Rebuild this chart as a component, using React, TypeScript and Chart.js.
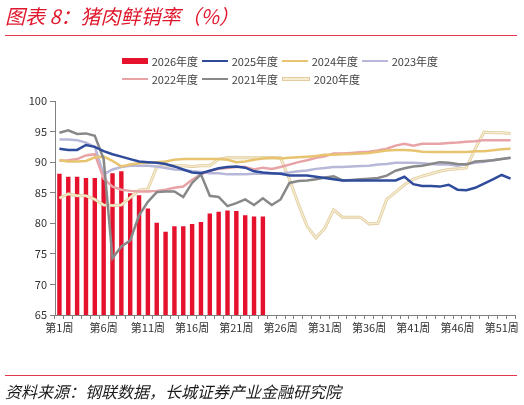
import { useRef, useEffect } from 'react'
import Chart from 'chart.js/auto'

const WEEKS = Array.from({ length: 52 }, (_, i) => `第${i + 1}周`)
const Y_MIN = 65
const Y_MAX = 100
const Y_STEP = 5

const Y2026 = [88.1, 87.6, 87.6, 87.4, 87.4, 87.6, 88.2, 88.5, 84.9, 84.6, 82.4, 80.1, 78.6, 79.5, 79.5, 79.9, 80.2, 81.6, 81.9, 82.1, 82.0, 81.3, 81.1, 81.1]
const Y2025 = [92.2, 92.0, 92.0, 92.8, 92.5, 91.8, 91.3, 90.9, 90.5, 90.1, 90.0, 89.9, 89.7, 89.3, 88.8, 88.3, 88.2, 88.6, 89.0, 89.2, 89.3, 89.1, 88.5, 88.3, 88.2, 88.1, 87.8, 87.8, 87.8, 87.6, 87.4, 87.2, 87.0, 87.0, 87.0, 87.0, 87.0, 87.0, 87.0, 87.6, 86.4, 86.1, 86.1, 86.0, 86.3, 85.5, 85.4, 85.8, 86.5, 87.2, 87.9, 87.3]
const Y2024 = [90.3, 90.1, 90.1, 90.2, 90.8, 90.9, 90.2, 89.3, 89.6, 89.8, 89.9, 90.0, 90.1, 90.4, 90.5, 90.5, 90.5, 90.5, 90.5, 90.4, 90.0, 90.1, 90.4, 90.6, 90.7, 90.6, 90.7, 90.8, 90.9, 91.0, 91.2, 91.2, 91.3, 91.35, 91.4, 91.5, 91.7, 91.9, 92.0, 92.0, 91.9, 91.7, 91.65, 91.65, 91.65, 91.65, 91.65, 91.8, 91.8, 91.95, 92.1, 92.2]
const Y2023 = [93.7, 93.7, 93.6, 93.2, 92.5, 88.0, 88.8, 89.2, 89.4, 89.4, 89.4, 89.3, 89.05, 88.8, 88.7, 88.5, 88.4, 88.2, 88.2, 88.0, 88.0, 88.0, 88.1, 88.1, 88.1, 88.2, 88.3, 88.5, 88.65, 88.9, 89.05, 89.2, 89.2, 89.3, 89.35, 89.4, 89.6, 89.7, 89.9, 89.9, 89.9, 89.8, 89.7, 89.6, 89.6, 89.4, 89.7, 89.9, 90.05, 90.3, 90.5, 90.7]
const Y2022 = [90.25, 90.3, 90.5, 91.1, 91.3, 87.3, 86.0, 85.5, 85.3, 85.2, 85.2, 85.3, 85.5, 85.8, 86.0, 87.1, 88.0, 88.6, 88.9, 89.05, 89.2, 89.2, 88.8, 89.1, 88.9, 89.2, 89.6, 90.0, 90.3, 90.7, 90.95, 91.4, 91.4, 91.5, 91.6, 91.7, 91.9, 92.2, 92.7, 93.0, 92.7, 93.0, 93.0, 93.0, 93.15, 93.2, 93.35, 93.4, 93.6, 93.6, 93.6, 93.6]
const Y2021 = [94.8, 95.2, 94.6, 94.7, 94.3, 90.5, 74.3, 76.2, 77.2, 81.3, 83.5, 85.1, 85.2, 85.2, 84.3, 86.6, 88.0, 84.5, 84.3, 82.8, 83.3, 83.9, 83.0, 84.1, 83.0, 83.9, 86.6, 86.9, 87.0, 87.2, 87.5, 87.7, 87.0, 87.1, 87.2, 87.3, 87.4, 87.8, 88.6, 89.0, 89.3, 89.4, 89.7, 90.0, 89.9, 89.7, 89.6, 90.1, 90.2, 90.3, 90.5, 90.7]
const Y2020 = [84.1, 84.8, 84.5, 84.5, 83.9, 83.0, 82.9, 83.0, 84.2, 85.4, 85.6, 89.2, 89.4, 89.4, 89.4, 89.3, 89.4, 89.4, 90.5, 90.7, 90.7, 90.7, 90.7, 90.7, 90.7, 90.7, 87.2, 83.2, 79.5, 77.6, 79.2, 82.2, 81.0, 81.0, 81.0, 79.9, 80.0, 83.9, 85.1, 86.3, 87.2, 87.7, 88.1, 88.5, 88.8, 88.9, 89.05, 92.2, 94.9, 94.8, 94.8, 94.7]

const FONT = '"Noto Sans CJK SC", "Noto Sans", sans-serif'

const LEGEND = [
  { label: '2026年度', color: '#e5112d', bar: true },
  { label: '2025年度', color: '#2f4b9b' },
  { label: '2024年度', color: '#e8c470' },
  { label: '2023年度', color: '#b7b7d9' },
  { label: '2022年度', color: '#e8a3a6' },
  { label: '2021年度', color: '#888888' },
  { label: '2020年度', color: '#f6ecd2', edge: '#e0cc9c' },
]

function line(label: string, data: number[], color: string, width: number, order: number) {
  return {
    type: 'line' as const,
    label,
    data,
    borderColor: color,
    backgroundColor: color,
    borderWidth: width,
    pointRadius: 0,
    tension: 0,
    order,
  }
}

export default function App() {
  const canvasRef = useRef<HTMLCanvasElement>(null)

  useEffect(() => {
    document.body.style.margin = '0'
    if (!canvasRef.current) return
    const chart = new Chart(canvasRef.current, {
      type: 'bar',
      data: {
        labels: WEEKS,
        datasets: [
          {
            type: 'bar',
            label: '2026年度',
            data: Y2026,
            backgroundColor: '#e5112d',
            barPercentage: 0.5,
            categoryPercentage: 1,
            order: 100,
          },
          line('2025年度', Y2025, '#2f4b9b', 2.5, 0),
          line('2021年度', Y2021, '#888888', 2.5, 1),
          line('2024年度', Y2024, '#e8c470', 2.5, 2),
          line('2022年度', Y2022, '#e8a3a6', 2.5, 3),
          line('2023年度', Y2023, '#b7b7d9', 2.5, 4),
          line('2020年度', Y2020, '#f6ecd2', 1.4, 5),
          line('2020edge', Y2020, '#e0cc9c', 3.0, 6),
        ] as any,
      },
      options: {
        responsive: false,
        animation: false,
        layout: { padding: { top: 101, right: 9, bottom: 60, left: 0 } },
        plugins: { legend: { display: false }, tooltip: { enabled: false } },
        scales: {
          x: {
            offset: true,
            grid: { drawOnChartArea: false, drawTicks: true, tickLength: 4, color: '#808080', offset: true },
            border: { color: '#808080', width: 1 },
            ticks: {
              autoSkip: false,
              maxRotation: 0,
              padding: 2,
              color: '#333333',
              font: { family: FONT, size: 11 },
              callback: (_v, i) => (i % 5 === 0 ? WEEKS[i] : ''),
            },
            afterFit: (s) => { s.height = 30 },
          },
          y: {
            min: Y_MIN,
            max: Y_MAX,
            grid: { drawOnChartArea: false, drawTicks: true, tickLength: 5, color: '#808080' },
            border: { color: '#808080', width: 1 },
            ticks: { stepSize: Y_STEP, padding: 3, color: '#333333', font: { family: FONT, size: 11 } },
            afterFit: (s) => { s.width = 55 },
          },
        },
      },
    })
    return () => chart.destroy()
  }, [])

  return (
    <div style={{ position: 'relative', width: 524, height: 405, background: '#fff', fontFamily: FONT, overflow: 'hidden' }}>
      <canvas ref={canvasRef} width={524} height={405} style={{ position: 'absolute', left: 0, top: 0 }} />
      <div style={{ position: 'absolute', left: 5, top: 4, height: 24, lineHeight: '24px', fontSize: 20, fontStyle: 'italic', color: '#e0182d', whiteSpace: 'nowrap' }}>
        图表 8：猪肉鲜销率（%）
      </div>
      <div style={{ position: 'absolute', left: 5, top: 35, width: 512, height: 1, background: '#e2364a' }} />
      {LEGEND.map((it, i) => {
        const col = i % 4
        const row = Math.floor(i / 4)
        const cy = row === 0 ? 61 : 79
        return (
          <div key={it.label} style={{ position: 'absolute', left: 121.7 + col * 80, top: cy - 8, height: 16, display: 'flex', alignItems: 'center', whiteSpace: 'nowrap' }}>
            <div style={{
              width: 26,
              height: it.bar ? 6.5 : it.edge ? 1.4 : 2.6,
              background: it.color,
              border: it.edge ? `1px solid ${it.edge}` : 'none',
              boxSizing: 'content-box',
            }} />
            <span style={{ marginLeft: 4, fontSize: 11, color: '#404040', lineHeight: '16px' }}>{it.label}</span>
          </div>
        )
      })}
      <div style={{ position: 'absolute', left: 5, top: 375, width: 512, height: 1, background: '#e2364a' }} />
      <div style={{ position: 'absolute', left: 5, top: 381, height: 20, lineHeight: '20px', fontSize: 16, fontStyle: 'italic', color: '#1a1a1a', whiteSpace: 'nowrap' }}>
        资料来源：钢联数据，长城证券产业金融研究院
      </div>
    </div>
  )
}
